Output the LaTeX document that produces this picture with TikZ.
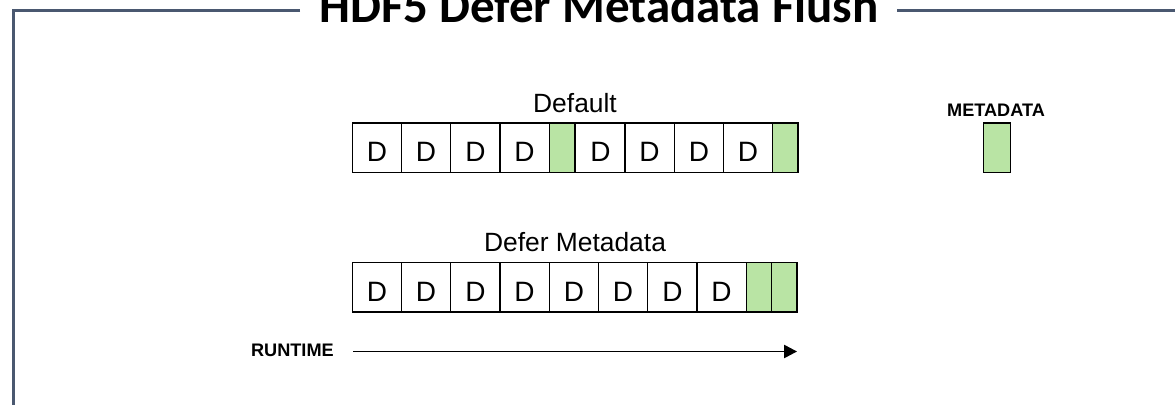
\documentclass[tikz,border=0pt]{standalone}
\usepackage{fontspec}
\setmainfont{Liberation Sans}
\newfontfamily\titlefont{Carlito}
\usetikzlibrary{arrows.meta}

\definecolor{framecol}{RGB}{74,88,112}
\definecolor{metagreen}{RGB}{185,228,164}

\tikzset{
  frame/.style={draw=framecol, line width=2.25pt},
  cellbase/.style={draw=black, line width=1pt, inner sep=0pt, minimum height=36.9pt},
  dcell/.style={cellbase, fill=white, minimum width=36.94pt,
    font=\fontsize{21}{25}\selectfont, text height=21.3pt, text depth=0pt},
  mcell/.style={cellbase, fill=metagreen, minimum width=18.94pt},
  rowlabel/.style={font=\fontsize{19.8}{24}\selectfont, anchor=base, inner sep=0pt},
  smalllabel/.style={font=\bfseries\fontsize{13.6}{16}\selectfont, inner sep=0pt},
  timeline/.style={draw=black, line width=1.1pt, -{Triangle[length=9.75pt, width=10pt]}}
}

\begin{document}
\begin{tikzpicture}[x=0.75pt, y=-0.75pt]
  \useasboundingbox (0,0) rectangle (1175,404);

  % open frame with the title set into its top edge
  \node[font=\titlefont\bfseries\fontsize{36.75}{40}\selectfont, anchor=base, inner sep=0pt]
    (title) at (599,22.5) {HDF5 Defer Metadata Flush};
  \coordinate (ftl) at (13,10);
  \coordinate (ftitleL) at (300,10);
  \coordinate (ftitleR) at (897,10);
  \coordinate (fbl) at (13,410);
  \coordinate (ftr) at (1180,10);
  \draw[frame] (ftitleL) -- (ftl) -- (fbl);
  \draw[frame] (ftitleR) -- (ftr);

  % default write order: metadata flushed between data blocks
  \node[rowlabel] (deflabel) at (575,112) {Default};
  \node[dcell] (a1) at (376.9,147.7) {D};
  \node[dcell] (a2) at (426.1,147.7) {D};
  \node[dcell] (a3) at (475.4,147.7) {D};
  \node[dcell] (a4) at (524.6,147.7) {D};
  \node[mcell] (am1) at (561.9,147.7) {};
  \node[dcell] (a5) at (600.4,147.7) {D};
  \node[dcell] (a6) at (649.6,147.7) {D};
  \node[dcell] (a7) at (698.9,147.7) {D};
  \node[dcell] (a8) at (748.1,147.7) {D};
  \node[mcell] (am2) at (785.4,147.7) {};

  % deferred write order: metadata flushed at the end
  \node[rowlabel] (deferlabel) at (575,251.5) {Defer Metadata};
  \node[dcell] (b1) at (376.9,287.3) {D};
  \node[dcell] (b2) at (426.1,287.3) {D};
  \node[dcell] (b3) at (475.4,287.3) {D};
  \node[dcell] (b4) at (524.6,287.3) {D};
  \node[dcell] (b5) at (573.9,287.3) {D};
  \node[dcell] (b6) at (623.1,287.3) {D};
  \node[dcell] (b7) at (672.4,287.3) {D};
  \node[dcell] (b8) at (721.6,287.3) {D};
  \node[mcell] (bm1) at (759.1,287.3) {};
  \node[mcell] (bm2) at (784.4,287.3) {};

  % legend
  \node[smalllabel, anchor=base] (metalabel) at (996,116) {METADATA};
  \node[cellbase, fill=metagreen, minimum width=20.25pt] (metabox) at (997,147.7) {};

  % time axis
  \node[smalllabel, anchor=base east] (runtime) at (334,356.5) {RUNTIME};
  \coordinate (tstart) at (353,351.5);
  \coordinate (tend) at (797,351.5);
  \draw[timeline] (tstart) -- (tend);
\end{tikzpicture}
\end{document}
